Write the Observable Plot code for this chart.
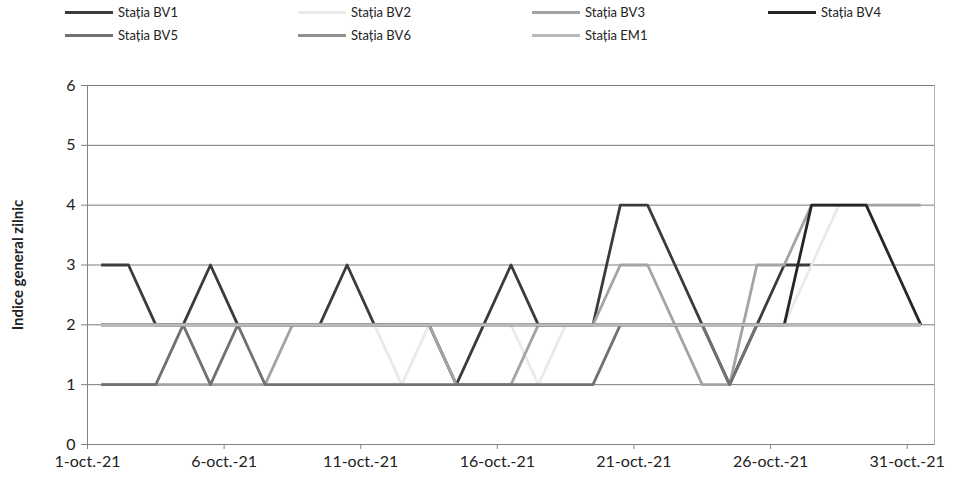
<!DOCTYPE html>
<html>
<head>
<meta charset="utf-8">
<script src="https://cdn.jsdelivr.net/npm/d3@7"></script>
<script src="https://cdn.jsdelivr.net/npm/@observablehq/plot@0.6"></script>
<style>
  body { margin: 0; background: #fff; font-family: Lato, "Open Sans", sans-serif; }
  #legend { position: relative; width: 969px; height: 55px; }
  .item { position: absolute; display: flex; align-items: center; font-size: 13px; color: #222; white-space: nowrap; }
  .sw { display: inline-block; width: 48px; height: 3px; margin-right: 5px; }
</style>
</head>
<body>
<div id="legend"></div>
<div id="chart"></div>
<script>
// ---- data ----
const days = d3.range(1, 32); // 1..31 October 2021
const bv1 = [3,3,2,2,3,2,2,2,2,3,2,2,2,1,2,3,2,2,2,4,4,3,2,1,2,3,3,null,null,null,null];
const bv2 = [2,2,2,2,2,2,2,2,2,2,2,1,2,2,2,2,1,2,2,2,2,2,2,2,2,2,3,4,4,4,4];
const bv3 = [1,1,1,1,1,1,1,2,2,2,2,2,2,1,1,1,2,2,2,3,3,2,1,1,3,3,4,4,4,4,4];
const bv4 = [2,2,2,2,2,2,2,2,2,2,2,2,2,2,2,2,2,2,2,2,2,2,2,2,2,2,4,4,4,3,2];
const bv5 = [1,1,1,2,1,2,1,1,1,1,1,1,1,1,1,1,1,1,1,2,2,2,2,1,2,2,2,2,2,2,2];
const bv6 = [2,2,2,2,2,2,2,2,2,2,2,2,2,2,2,2,2,2,2,2,2,2,2,2,2,2,2,2,2,2,2];
const em1 = [2,2,2,2,2,2,2,2,2,2,2,2,2,2,2,2,2,2,2,2,2,2,2,2,2,2,2,2,2,2,2];
const seriesNames = ["Stația BV1","Stația BV2","Stația BV3","Stația BV4","Stația BV5","Stația BV6","Stația EM1"];
const seriesValues = [bv1, bv2, bv3, bv4, bv5, bv6, em1];
const seriesColors = ["#3b3b3b","#eaeaea","#a4a4a4","#262626","#717171","#909090","#bababa"];
const tickDays = [1, 6, 11, 16, 21, 26, 31];
const tickLabels = ["1-oct.-21","6-oct.-21","11-oct.-21","16-oct.-21","21-oct.-21","26-oct.-21","31-oct.-21"];
const yTicks = [0, 1, 2, 3, 4, 5, 6];
const yTitle = "Indice general zilnic";

// ---- legend ----
const legend = document.getElementById("legend");
const colX = [65, 298, 532, 768];
const rowY = [4, 27];
seriesNames.forEach((name, i) => {
  const el = document.createElement("div");
  el.className = "item";
  el.style.left = colX[i % 4] + "px";
  el.style.top = rowY[Math.floor(i / 4)] + "px";
  el.innerHTML = `<span class="sw" style="background:${seriesColors[i]}"></span><span>${name}</span>`;
  legend.appendChild(el);
});

// ---- chart ----
const dateOf = (d, h = 0) => new Date(Date.UTC(2021, 9, d, h));
const x0 = dateOf(1), x1 = dateOf(32);
const tickDates = tickDays.map(d => dateOf(d));
const labelMap = new Map(tickDates.map((t, i) => [+t, tickLabels[i]]));

const lineMarks = seriesValues.map((vals, i) =>
  Plot.lineY(days.map((d, j) => ({date: dateOf(d, 12), v: vals[j]})), {
    x: "date", y: "v", stroke: seriesColors[i], strokeWidth: 2.8,
    strokeLinejoin: "round", strokeLinecap: "butt"
  })
);

const chart = Plot.plot({
  width: 969,
  height: 429,
  marginLeft: 87,
  marginRight: 35,
  marginTop: 30,
  marginBottom: 40,
  style: {fontFamily: "Lato, 'Open Sans', sans-serif", color: "#222", background: "#fff"},
  x: {type: "utc", domain: [x0, x1]},
  y: {domain: [0, 6]},
  marks: [
    Plot.frame({stroke: "#b0b0b0"}),
    Plot.gridY(yTicks.filter(v => v > 0), {stroke: "#7a7a7a", strokeOpacity: 1, strokeWidth: 1}),
    Plot.ruleY([0], {stroke: "#808080"}),
    Plot.ruleX([x0], {stroke: "#808080"}),
    Plot.axisY({ticks: yTicks, tickFormat: d => String(d), tickSize: 6, tickPadding: 6, fontSize: 16, label: null, stroke: "#808080"}),
    Plot.axisX({ticks: tickDates, tickFormat: d => labelMap.get(+d), tickSize: 5, tickPadding: 6, fontSize: 16, label: null, stroke: "#808080"}),
    Plot.text([yTitle], {frameAnchor: "left", textAnchor: "middle", rotate: -90, dx: -69, fontWeight: "bold", fontSize: 15, fill: "#222"}),
    ...lineMarks
  ]
});
document.getElementById("chart").appendChild(chart);
</script>
</body>
</html>
